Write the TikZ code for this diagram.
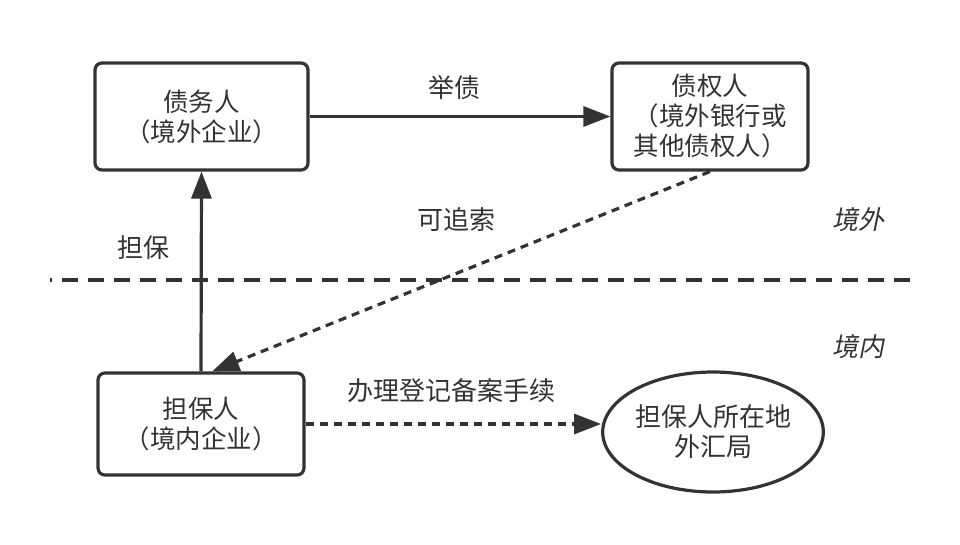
\documentclass[tikz,border=0pt]{standalone}
\usepackage{fontspec}
\setmainfont{Noto Sans CJK SC}
\newfontfamily\slantcjk[FakeSlant=0.2]{Noto Sans CJK SC}
\usetikzlibrary{arrows.meta,shapes.geometric}
\definecolor{ink}{HTML}{333333}

\begin{document}
\begin{tikzpicture}[x=1pt,y=-1pt,
  party/.style={draw=ink,text=ink,line width=3.2pt,rounded corners=7pt,align=center,font=\fontsize{25.5}{30}\selectfont},
  office/.style={ellipse,draw=ink,text=ink,line width=3.2pt,align=center,font=\fontsize{26}{30}\selectfont,inner sep=0pt},
  tag/.style={text=ink,font=\fontsize{26}{30}\selectfont},
  zone/.style={text=ink,font=\fontsize{26}{30}\slantcjk},
  link/.style={draw=ink,line width=3.2pt,-{Triangle[length=27pt,width=20pt]}},
  dotlink/.style={link,dash pattern=on 8pt off 6pt}]
\useasboundingbox (0,0) rectangle (960,544);
\node[party,minimum width=213pt,minimum height=107pt] (debtor) at (201.5,116.5) {债务人\\（境外企业）};
\node[party,minimum width=196pt,minimum height=107pt] (creditor) at (710,116.5) {债权人\\（境外银行或\\其他债权人）};
\node[party,minimum width=206pt,minimum height=102pt] (guarantor) at (201,424) {担保人\\（境内企业）};
\node[office,minimum width=216pt,minimum height=120pt] (safe) at (713,432) {担保人所在地\\外汇局};
\node[tag] (borrow) at (454,88) {举债};
\node[tag] (recourse) at (456,220) {可追索};
\node[tag] (secure) at (143,248) {担保};
\node[tag] (register) at (451,391) {办理登记备案手续};
\node[zone] (abroad) at (858,220) {境外};
\node[zone] (domestic) at (858,347) {境内};
\coordinate (sepL) at (50,280);
\coordinate (sepR) at (910,280);
% border between abroad and domestic
\path[draw=ink,line width=3.2pt,dash pattern=on 16pt off 10pt,dash phase=14pt] (sepL) -- (sepR);
\path[link] (debtor.east) -- (creditor.west);
\path[link] (guarantor.north) -- (debtor.south);
\path[dotlink] (creditor.south) -- (guarantor.78);
\path[dotlink] (guarantor.east) -- (guarantor.east -| safe.west);
\end{tikzpicture}
\end{document}
